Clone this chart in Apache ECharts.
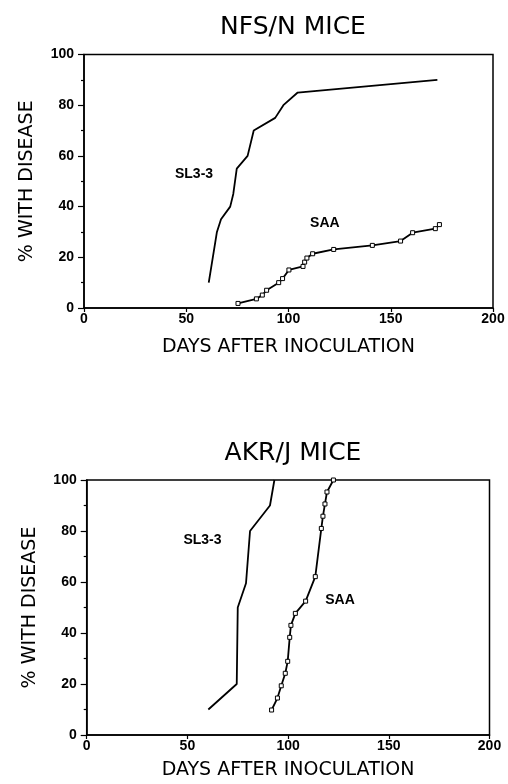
<!DOCTYPE html>
<html>
<head>
<meta charset="utf-8">
<script src="https://cdn.jsdelivr.net/npm/echarts@6/dist/echarts.min.js"></script>
<style>
  html, body { margin: 0; padding: 0; background: #fff; }
  #main { width: 508px; height: 784px; }
</style>
</head>
<body>
<div id="main"></div>
<script>
// NFS/N mice
var nfsSlDays = [61, 64, 65, 67, 71.5, 73, 74.7, 80, 83, 93.5, 97.5, 104.5, 172.8];
var nfsSlPct  = [10, 25, 30, 35, 40, 45, 55, 60, 70, 75, 80, 85, 90];
var nfsSaaDays = [75.3, 84.3, 87.2, 89.3, 95.2, 97.1, 100.2, 107.1, 107.9, 109, 111.8, 122.1, 141, 154.8, 160.7, 171.8, 173.8];
var nfsSaaPct  = [1.8, 3.6, 5.1, 7, 10, 11.6, 15, 16.4, 18.1, 19.7, 21.4, 23.1, 24.7, 26.4, 29.7, 31.3, 32.9];

// AKR/J mice
var akrSlDays = [60.4, 74.5, 75, 79.1, 81.1, 91, 93.2];
var akrSlPct  = [10, 20, 50, 59.5, 80, 90, 100];
var akrSaaDays = [91.8, 94.7, 96.6, 98.6, 99.8, 100.8, 101.4, 103.6, 108.7, 113.5, 116.5, 117.3, 118.3, 119.3, 122.5];
var akrSaaPct  = [9.8, 14.5, 19.3, 24.2, 28.9, 38.3, 43, 47.7, 52.5, 62.1, 81, 85.8, 90.6, 95.3, 100];

var titles = ['NFS/N MICE', 'AKR/J MICE'];
var seriesNames = ['SL3-3', 'SAA'];
// label anchors in data units [days, %]
var labelAt = [
    [[53.8, 52.9], [117.8, 33.3]],
    [[57.5, 76.3], [125.8, 52.7]]
];

function pairs(xs, ys){
    var out = [];
    for (var i = 0; i < xs.length; i++) {
        out.push([xs[i], ys[i]]);
    }
    return out;
}

function extend(a, b){
    for (var k in b) a[k] = b[k];
    return a;
}

var chart = echarts.init(document.getElementById('main'));

var tickFont = {color: '#000', fontFamily: 'Liberation Sans', fontWeight: 'bold', fontSize: 14};
var nameFont = {color: '#000', fontFamily: 'DejaVu Sans', fontSize: 19};

function xAxis(idx, gap){
    return {
        type: 'value', gridIndex: idx, min: 0, max: 200, interval: 50,
        name: 'DAYS AFTER INOCULATION', nameLocation: 'middle', nameGap: gap,
        nameTextStyle: nameFont,
        axisLine: {lineStyle: {color: '#000', width: 1.5}},
        axisTick: {length: 4, lineStyle: {color: '#000', width: 1.2}},
        axisLabel: extend({margin: 4}, tickFont),
        splitLine: {show: false}
    };
}

function yAxis(idx){
    return {
        type: 'value', gridIndex: idx, min: 0, max: 100, interval: 20,
        name: '% WITH DISEASE', nameLocation: 'middle', nameGap: 47,
        nameTextStyle: nameFont,
        axisLine: {show: true, lineStyle: {color: '#000', width: 1.5}},
        axisTick: {show: true, length: 6, lineStyle: {color: '#000', width: 1.2}},
        minorTick: {show: true, splitNumber: 2, length: 3, lineStyle: {color: '#000', width: 1.2}},
        axisLabel: extend({margin: 10}, tickFont),
        splitLine: {show: false}
    };
}

//one curve + its text label
function curve(name, data, xi, withBoxes, anchor){
    return {
        name: name, type: 'line', xAxisIndex: xi, yAxisIndex: xi,
        data: data,
        symbol: withBoxes ? 'rect' : 'none',
        symbolSize: 4,
        showSymbol: withBoxes,
        itemStyle: {color: '#fff', borderColor: '#000', borderWidth: 1},
        lineStyle: {color: '#000', width: 1.8},
        markPoint: {
            symbol: 'circle', symbolSize: 1,
            itemStyle: {color: 'transparent'},
            label: {show: true, position: 'inside', formatter: name,
                color: '#000', fontFamily: 'Liberation Sans', fontWeight: 'bold', fontSize: 14},
            data: [{coord: anchor}]
        }
    };
}

var titleFont = {color: '#000', fontFamily: 'DejaVu Sans', fontWeight: 'normal', fontSize: 25};

var option = {
    animation: false,
    backgroundColor: '#fff',
    title: [
        {text: titles[0], left: 288, top: 10, textAlign: 'center', textStyle: titleFont},
        {text: titles[1], left: 288, top: 436, textAlign: 'center', textStyle: titleFont}
    ],
    grid: [
        {left: 84, top: 54.5, width: 409, height: 253.5, show: true, borderColor: '#000', borderWidth: 1.5, backgroundColor: 'transparent'},
        {left: 86.7, top: 480, width: 402.8, height: 255, show: true, borderColor: '#000', borderWidth: 1.5, backgroundColor: 'transparent'}
    ],
    xAxis: [xAxis(0, 30), xAxis(1, 26)],
    yAxis: [yAxis(0), yAxis(1)],
    series: [
        curve(seriesNames[0], pairs(nfsSlDays, nfsSlPct), 0, false, labelAt[0][0]),
        curve(seriesNames[1], pairs(nfsSaaDays, nfsSaaPct), 0, true, labelAt[0][1]),
        curve(seriesNames[0], pairs(akrSlDays, akrSlPct), 1, false, labelAt[1][0]),
        curve(seriesNames[1], pairs(akrSaaDays, akrSaaPct), 1, true, labelAt[1][1])
    ]
};
chart.setOption(option);
</script>
</body>
</html>
